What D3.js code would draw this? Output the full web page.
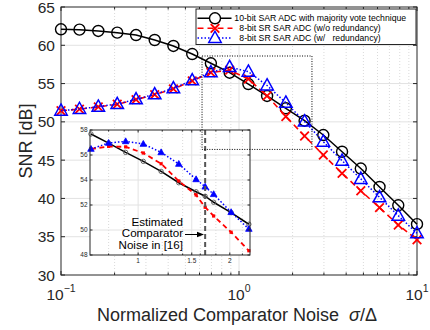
<!DOCTYPE html>
<html>
<head>
<meta charset="utf-8">
<script src="https://cdn.jsdelivr.net/npm/d3@7"></script>
<style>
body { margin: 0; background: #fff; }
text { font-family: "Liberation Sans", Arial, sans-serif; fill: #262626; }
</style>
</head>
<body>
<svg id="chart" width="430" height="330"></svg>
<script>
// main chart data (sigma / Delta on a log axis)
var noise = [0.1, 0.127, 0.162, 0.207, 0.264, 0.336, 0.428, 0.546, 0.695, 0.886,
	1.129, 1.438, 1.833, 2.336, 2.976, 3.793, 4.833, 6.158, 7.848, 10];
var snrMajority = [62.09, 62.04, 61.87, 61.65, 61.34, 60.69, 59.91, 58.86, 57.65, 56.42,
	54.94, 53.38, 51.77, 50.15, 48.28, 46.1, 43.9, 41.5, 39.1, 36.64];
var snrNoRedundancy = [51.45, 51.66, 51.95, 52.3, 52.9, 53.55, 54.3, 55.35, 56.45, 56.75,
	55.6, 53.4, 50.7, 48.15, 45.67, 43.28, 41.0, 38.8, 36.53, 34.6];
var snrRedundancy = [51.46, 51.68, 51.98, 52.33, 52.94, 53.6, 54.38, 55.43, 56.47, 57.15,
	56.55, 54.75, 52.5, 50.05, 47.41, 44.93, 42.55, 40.15, 37.75, 35.45];

// zoomed inset data
var insetNoise = [0.70, 0.80, 0.91, 1.04, 1.19, 1.36, 1.55, 1.66, 1.77, 2.02, 2.31];
var insetMajority = [57.68, 56.95, 56.21, 55.49, 54.69, 53.78, 53.06, 52.7, 52.22, 51.39, 50.46];
var insetNoRedundancy = [56.48, 56.69, 56.65, 56.16, 55.3, 53.92, 52.8, 51.82, 51.12, 49.82, 48.34];
var insetRedundancy = [56.48, 56.96, 57.09, 56.88, 56.21, 55.28, 54.05, 53.46, 52.86, 51.42, 50.08];

var yTicks = [30, 35, 40, 45, 50, 55, 60, 65];
var xTicks = [0.1, 1, 10];
var xTickExp = ["\u22121", "0", "1"];
var insetYTicks = [48, 50, 52, 54, 56, 58];
var insetXTicks = [1, 1.5, 2];
var insetXTickLabels = ["1", "1.5", "2"];
var estimatedNoise = 1.66;
var zoomBox = [0.62, 2.57, 46.4, 58.6]; // x0, x1, y0, y1

var legendLabels = ["10-bit SAR ADC with majority vote technique",
	"8-bit SR SAR ADC (w/o redundancy)",
	"8-bit SR SAR ADC (w/   redundancy)"];

var svg = d3.select("#chart");

var x = d3.scaleLog().domain([0.1, 10]).range([61, 417]);
var y = d3.scaleLinear().domain([30, 65]).range([275, 7]);

var minorX = [];
[0.1, 1].forEach(function(d) {
	for (var k = 2; k <= 9; k++) minorX.push(d * k);
});

// grid
var grid = svg.append("g");
grid.selectAll(".minor").data(minorX).enter().append("line")
	.attr("x1", x).attr("x2", x).attr("y1", y(30)).attr("y2", y(65))
	.style("stroke", "#d0d0d0").style("stroke-width", 0.8).style("stroke-dasharray", "1,2");
grid.selectAll(".vx").data([1]).enter().append("line")
	.attr("x1", x).attr("x2", x).attr("y1", y(30)).attr("y2", y(65))
	.style("stroke", "#e2e2e2").style("stroke-width", 1);
grid.selectAll(".hy").data(yTicks.slice(1, -1)).enter().append("line")
	.attr("x1", x(0.1)).attr("x2", x(10)).attr("y1", y).attr("y2", y)
	.style("stroke", "#e2e2e2").style("stroke-width", 1);

// axes box and ticks
var ax = svg.append("g").style("stroke", "#262626");
ax.append("rect").attr("x", x(0.1)).attr("y", y(65))
	.attr("width", x(10) - x(0.1)).attr("height", y(30) - y(65))
	.style("fill", "none").style("stroke-width", 1);
yTicks.forEach(function(v) {
	ax.append("line").attr("x1", x(0.1)).attr("x2", x(0.1) + 4).attr("y1", y(v)).attr("y2", y(v));
	ax.append("line").attr("x1", x(10)).attr("x2", x(10) - 4).attr("y1", y(v)).attr("y2", y(v));
});
xTicks.concat(minorX).forEach(function(v, i) {
	var len = i < xTicks.length ? 4 : 2.5;
	ax.append("line").attr("x1", x(v)).attr("x2", x(v)).attr("y1", y(30)).attr("y2", y(30) - len);
	ax.append("line").attr("x1", x(v)).attr("x2", x(v)).attr("y1", y(65)).attr("y2", y(65) + len);
});

svg.selectAll(".ylab").data(yTicks).enter().append("text")
	.attr("x", x(0.1) - 6).attr("y", y).attr("dy", "0.36em")
	.attr("text-anchor", "end").style("font-size", "15.5px")
	.text(function(d) { return d; });

xTicks.forEach(function(v, i) {
	var t = svg.append("text").attr("x", x(v)).attr("y", 300)
		.attr("text-anchor", "middle").style("font-size", "15.5px");
	t.append("tspan").text("10");
	t.append("tspan").attr("dy", -8).style("font-size", "10.5px").text(xTickExp[i]);
});

var xl = svg.append("text").attr("x", 237).attr("y", 321)
	.attr("text-anchor", "middle").style("font-size", "18px");
xl.append("tspan").text("Normalized Comparator Noise\u00a0\u00a0");
xl.append("tspan").style("font-style", "italic").text("\u03c3");
xl.append("tspan").text("/\u0394");

svg.append("text").attr("transform", "translate(32," + y(47.5) + ") rotate(-90)")
	.attr("text-anchor", "middle").style("font-size", "18px").text("SNR [dB]");

// markers
function circleMark(g, cx, cy, r, color, fill, w) {
	g.append("circle").attr("cx", cx).attr("cy", cy).attr("r", r)
		.style("fill", fill).style("stroke", color).style("stroke-width", w);
}
function triMark(g, cx, cy, s, color, fill, w) {
	var h = s * 0.9;
	g.append("path")
		.attr("d", "M" + cx + "," + (cy - h * 0.6) + "L" + (cx + s / 2) + "," + (cy + h * 0.4) +
			"L" + (cx - s / 2) + "," + (cy + h * 0.4) + "Z")
		.style("fill", fill).style("stroke", color).style("stroke-width", w);
}
function crossMark(g, cx, cy, s, color, w) {
	g.append("path")
		.attr("d", "M" + (cx - s) + "," + (cy - s) + "L" + (cx + s) + "," + (cy + s) +
			"M" + (cx - s) + "," + (cy + s) + "L" + (cx + s) + "," + (cy - s))
		.style("stroke", color).style("stroke-width", w).style("fill", "none");
}

var line = d3.line().x(function(d) { return x(d[0]); }).y(function(d) { return y(d[1]); });
var plot = svg.append("g");

var blackPts = d3.zip(noise, snrMajority);
var redPts = d3.zip(noise, snrNoRedundancy);
var bluePts = d3.zip(noise, snrRedundancy);

plot.append("path").datum(blackPts).attr("d", line)
	.style("fill", "none").style("stroke", "#000").style("stroke-width", 1.5);
blackPts.forEach(function(d) { circleMark(plot, x(d[0]), y(d[1]), 5.5, "#000", "none", 1.4); });

plot.append("path").datum(redPts).attr("d", line)
	.style("fill", "none").style("stroke", "#ff0000").style("stroke-width", 1.6).style("stroke-dasharray", "6,4");
redPts.forEach(function(d) { crossMark(plot, x(d[0]), y(d[1]), 4.3, "#ff0000", 1.8); });

plot.append("path").datum(bluePts).attr("d", line)
	.style("fill", "none").style("stroke", "#0000ff").style("stroke-width", 1.5).style("stroke-dasharray", "1.5,2");
bluePts.forEach(function(d) { triMark(plot, x(d[0]), y(d[1]), 12.5, "#0000ff", "none", 1.5); });

// legend
var lg = svg.append("g");
lg.append("rect").attr("x", 196).attr("y", 9).attr("width", 220).attr("height", 35.5)
	.style("fill", "#fff").style("stroke", "#262626").style("stroke-width", 1);
var rowY = [18.3, 28.3, 38];
var textX = [234.3, 239.3, 239.3];
lg.append("line").attr("x1", 197.5).attr("x2", 231.5).attr("y1", rowY[0]).attr("y2", rowY[0])
	.style("stroke", "#000").style("stroke-width", 1.5);
circleMark(lg, 215, rowY[0], 5.5, "#000", "#fff", 1.4);
lg.append("line").attr("x1", 197.5).attr("x2", 232.5).attr("y1", rowY[1]).attr("y2", rowY[1])
	.style("stroke", "#ff0000").style("stroke-width", 1.6).style("stroke-dasharray", "6,4");
crossMark(lg, 215, rowY[1], 4.3, "#ff0000", 1.8);
lg.append("line").attr("x1", 197.5).attr("x2", 232.5).attr("y1", rowY[2]).attr("y2", rowY[2])
	.style("stroke", "#0000ff").style("stroke-width", 1.5).style("stroke-dasharray", "1.5,2");
triMark(lg, 215, rowY[2], 12.5, "#0000ff", "#fff", 1.5);
legendLabels.forEach(function(s, i) {
	lg.append("text").attr("x", textX[i]).attr("y", rowY[i]).attr("dy", "0.35em")
		.style("font-size", "8.7px").style("fill", "#000").style("white-space", "pre").text(s);
});

// inset
var ix = d3.scaleLog().domain([0.695, 2.33]).range([90, 250]);
var iy = d3.scaleLinear().domain([48, 58]).range([255, 130]);
var ins = svg.append("g");
ins.append("rect").attr("x", 90).attr("y", 130).attr("width", 160).attr("height", 125)
	.style("fill", "#fff");
var insetMinor = [0.8, 0.9, 1.2, 1.4, 1.6, 1.8, 2.2];
ins.selectAll(".im").data(insetMinor).enter().append("line")
	.attr("x1", ix).attr("x2", ix).attr("y1", iy(48)).attr("y2", iy(58))
	.style("stroke", "#cfcfcf").style("stroke-width", 0.8).style("stroke-dasharray", "1,2");
ins.selectAll(".ig").data(insetXTicks).enter().append("line")
	.attr("x1", ix).attr("x2", ix).attr("y1", iy(48)).attr("y2", iy(58))
	.style("stroke", "#e2e2e2").style("stroke-width", 1);
ins.selectAll(".ih").data(insetYTicks.slice(1, -1)).enter().append("line")
	.attr("x1", 90).attr("x2", 250).attr("y1", iy).attr("y2", iy)
	.style("stroke", "#e2e2e2").style("stroke-width", 1);

var iline = d3.line().x(function(d) { return ix(d[0]); }).y(function(d) { return iy(d[1]); });
var iBlack = d3.zip(insetNoise, insetMajority);
var iRed = d3.zip(insetNoise, insetNoRedundancy);
var iBlue = d3.zip(insetNoise, insetRedundancy);

ins.append("path").datum(iBlack).attr("d", iline)
	.style("fill", "none").style("stroke", "#000").style("stroke-width", 1.5);
iBlack.forEach(function(d) { circleMark(ins, ix(d[0]), iy(d[1]), 2.2, "#555", "none", 0.9); });

ins.append("path").datum(iRed).attr("d", iline)
	.style("fill", "none").style("stroke", "#ff0000").style("stroke-width", 1.8).style("stroke-dasharray", "5,3.5");
iRed.forEach(function(d) {
	ins.append("rect").attr("x", ix(d[0]) - 1.6).attr("y", iy(d[1]) - 1.6)
		.attr("width", 3.2).attr("height", 3.2).style("fill", "#ff0000");
});

ins.append("path").datum(iBlue).attr("d", iline)
	.style("fill", "none").style("stroke", "#0000ff").style("stroke-width", 1.5).style("stroke-dasharray", "1.5,2");
iBlue.forEach(function(d) { triMark(ins, ix(d[0]), iy(d[1]), 6.5, "#0000ff", "#0000ff", 0.8); });

ins.append("line").attr("x1", ix(estimatedNoise)).attr("x2", ix(estimatedNoise))
	.attr("y1", iy(58)).attr("y2", iy(48))
	.style("stroke", "#555").style("stroke-width", 2).style("stroke-dasharray", "5,3");

var iax = ins.append("g").style("stroke", "#262626");
iax.append("rect").attr("x", 90).attr("y", 130).attr("width", 160).attr("height", 125)
	.style("fill", "none").style("stroke-width", 1);
insetYTicks.forEach(function(v) {
	iax.append("line").attr("x1", 90).attr("x2", 92.5).attr("y1", iy(v)).attr("y2", iy(v));
	iax.append("line").attr("x1", 250).attr("x2", 247.5).attr("y1", iy(v)).attr("y2", iy(v));
});
insetXTicks.concat(insetMinor).forEach(function(v, i) {
	var len = i < insetXTicks.length ? 2.5 : 1.5;
	iax.append("line").attr("x1", ix(v)).attr("x2", ix(v)).attr("y1", 255).attr("y2", 255 - len);
	iax.append("line").attr("x1", ix(v)).attr("x2", ix(v)).attr("y1", 130).attr("y2", 130 + len);
});
ins.selectAll(".iyl").data(insetYTicks).enter().append("text")
	.attr("x", 87.5).attr("y", iy).attr("dy", "0.35em").attr("text-anchor", "end")
	.style("font-size", "6.5px").text(function(d) { return d; });
ins.selectAll(".ixl").data(insetXTicks).enter().append("text")
	.attr("x", ix).attr("y", 262.5).attr("text-anchor", "middle")
	.style("font-size", "6.5px").text(function(d, i) { return insetXTickLabels[i]; });

var note = ["Estimated", "Comparator", "Noise in [16]"];
var noteY = [225.5, 237, 248.5];
note.forEach(function(s, i) {
	ins.append("text").attr("x", 183).attr("y", noteY[i]).attr("text-anchor", "end")
		.style("font-size", "11.6px").style("fill", "#000").text(s);
});
ins.append("line").attr("x1", 185).attr("x2", 198).attr("y1", 234.5).attr("y2", 234.5)
	.style("stroke", "#000").style("stroke-width", 1);
ins.append("path").attr("d", "M204,234.5L197,231.8L197,237.2Z").style("fill", "#000");

// dotted zoom box drawn on top
svg.append("rect")
	.attr("x", x(zoomBox[0])).attr("y", y(zoomBox[3]))
	.attr("width", x(zoomBox[1]) - x(zoomBox[0])).attr("height", y(zoomBox[2]) - y(zoomBox[3]))
	.style("fill", "none").style("stroke", "#000").style("stroke-width", 1)
	.style("stroke-dasharray", "1,1.5");
</script>
</body>
</html>
